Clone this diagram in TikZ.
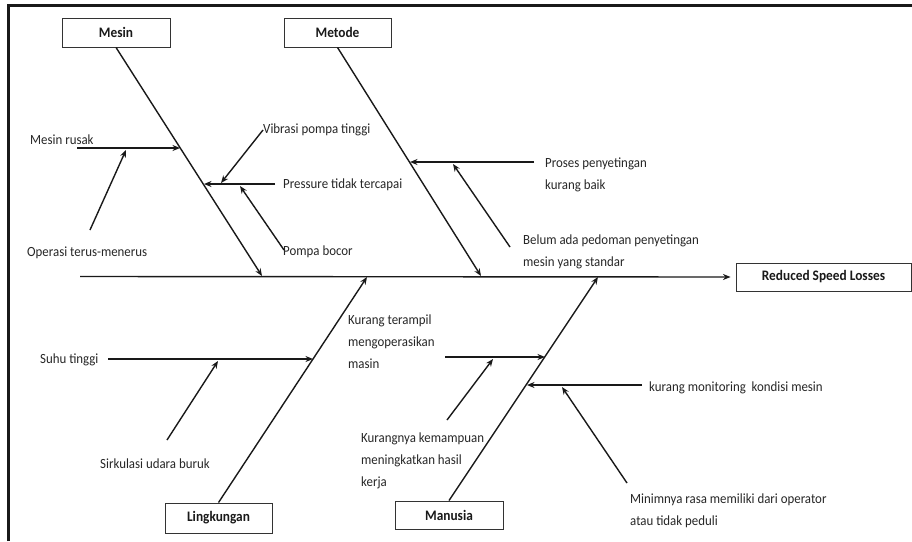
\documentclass[tikz,border=0pt]{standalone}
\usepackage{fontspec}
\setmainfont{Carlito}[FakeStretch=0.92]
\usetikzlibrary{arrows.meta,calc}
\begin{document}
\begin{tikzpicture}[x=1pt,y=-1pt,
  catbox/.style={draw=black!80,line width=0.9pt,fill=white,font=\fontsize{14.5}{16}\selectfont\bfseries,text=black!90,minimum height=29pt,inner sep=0pt},
  lbl/.style={anchor=west,inner sep=0pt,align=left,text=black!85,font=\fontsize{14}{22}\selectfont},
  bone/.style={line width=1.4pt,draw=black!90,-{Stealth[length=7.5pt,width=6pt]}},
  twig/.style={line width=1.4pt,draw=black!90}]
\useasboundingbox (0,0) rectangle (912,541);
\draw[line width=2.4pt,black!90] (8.5,541) -- (8.5,5.5) -- (912,5.5);

% category boxes
\node[catbox,minimum width=108pt] (mesin) at (116,32.5) {Mesin};
\node[catbox,minimum width=107pt] (metode) at (337.5,32.5) {Metode};
\node[catbox,minimum width=107pt,minimum height=30pt] (ling) at (218.5,518) {Lingkungan};
\node[catbox,minimum width=108pt,minimum height=28pt] (manusia) at (449,515) {Manusia};
\node[catbox,minimum width=175pt,minimum height=28pt] (rsl) at (823.5,277) {Reduced Speed Losses};

% spine
\coordinate (tail) at (80,276.5);
\draw[bone] (tail) -- ([xshift=-5pt]rsl.west);

% main bone endpoints on spine
\coordinate (mesinE) at (262,276);
\coordinate (metodeE) at (481,276);
\coordinate (lingE) at (367,277);
\coordinate (manE) at (598,277);
\draw[bone] (mesin.south) -- (mesinE);
\draw[bone] (metode.south) -- (metodeE);
\draw[bone] (ling.north) -- (lingE);
\draw[bone] (manusia.north) -- (manE);

% labels
\node[lbl] (t1) at (30,140) {Mesin rusak};
\node[lbl] (t2) at (27,253) {Operasi terus-menerus};
\node[lbl] (t3) at (263,130) {Vibrasi pompa tinggi};
\node[lbl] (t4) at (283,185) {Pressure tidak tercapai};
\node[lbl] (t5) at (283,252) {Pompa bocor};
\node[lbl] (t6) at (545,175) {Proses penyetingan\\kurang baik};
\node[lbl] (t7) at (523,251.5) {Belum ada pedoman penyetingan\\mesin yang standar};
\node[lbl] (t8) at (40,360) {Suhu tinggi};
\node[lbl] (t9) at (100,464) {Sirkulasi udara buruk};
\node[lbl] (t10) at (348,342) {Kurang terampil\\mengoperasikan\\masin};
\node[lbl] (t11) at (361,461) {Kurangnya kemampuan\\meningkatkan hasil\\kerja};
\node[lbl] (t12) at (649,388) {kurang monitoring~ kondisi mesin};
\node[lbl] (t13) at (630,511) {Minimnya rasa memiliki dari operator\\atau tidak peduli};

% Mesin branch
\coordinate (a1s) at (77,148);
\coordinate (a1e) at (180,148);
\draw[bone] (a1s) -- (a1e);
\coordinate (a2s) at (90,230);
\coordinate (a2e) at (126,150);
\draw[bone] (a2s) -- (a2e);
\coordinate (a4s) at (275,184);
\coordinate (a4e) at (204,184);
\draw[bone] (a4s) -- (a4e);
\coordinate (a3e) at (221,183);
\draw[bone] (t3.west) -- (a3e);
\coordinate (a5s) at (284,250);
\coordinate (a5e) at (240,186);
\draw[bone] (a5s) -- (a5e);

% Metode branch
\coordinate (b1s) at (534,162);
\coordinate (b1e) at (410,162);
\draw[bone] (b1s) -- (b1e);
\coordinate (b2s) at (510,247);
\coordinate (b2e) at (453,164);
\draw[bone] (b2s) -- (b2e);

% Lingkungan branch
\coordinate (c1s) at (108,359);
\coordinate (c1e) at (313,359);
\draw[bone] (c1s) -- (c1e);
\coordinate (c2s) at (167,440);
\coordinate (c2e) at (218,361);
\draw[bone] (c2s) -- (c2e);

% Manusia branch
\coordinate (d1s) at (445,357);
\coordinate (d1e) at (545,357);
\draw[bone] (d1s) -- (d1e);
\coordinate (d2s) at (447,420);
\coordinate (d2e) at (493,359);
\draw[bone] (d2s) -- (d2e);
\coordinate (d3s) at (642,385);
\coordinate (d3e) at (527,385);
\draw[bone] (d3s) -- (d3e);
\coordinate (d4s) at (627,483);
\coordinate (d4e) at (562,387);
\draw[bone] (d4s) -- (d4e);
\end{tikzpicture}
\end{document}
